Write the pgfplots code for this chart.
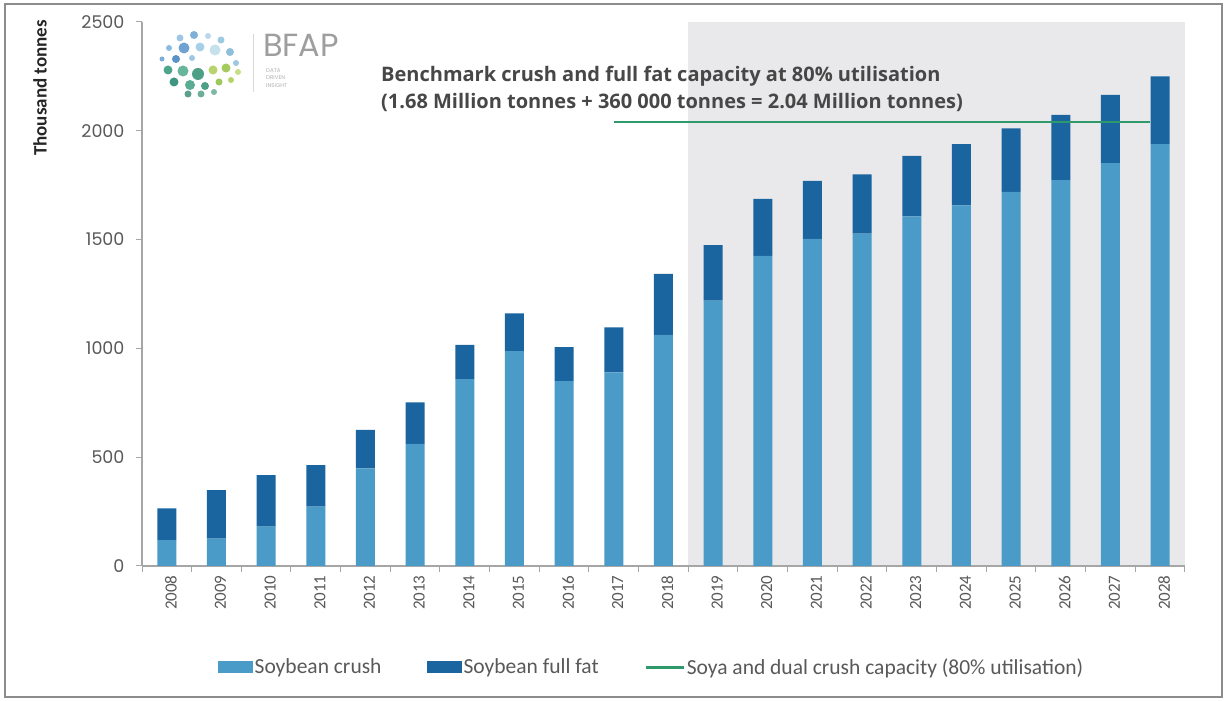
\documentclass[border=0pt]{standalone}
\usepackage{pgfplots}
\pgfplotsset{compat=1.18}
\usepackage{fontspec}
\setmainfont{Carlito}
\newfontfamily\poppins{Poppins}
\newfontfamily\opensans{Open Sans}
\definecolor{crush}{HTML}{4A9BC7}
\definecolor{fullfat}{HTML}{1A649F}
\definecolor{capline}{HTML}{2E9A6C}
\definecolor{shadebg}{HTML}{E9E9EB}
\definecolor{txtgray}{HTML}{595959}
\definecolor{axgray}{HTML}{A6A6A6}

\pgfplotstableread{
year crush fullfat
2008 119 146
2009 126 223
2010 181 237
2011 273 191
2012 449 176
2013 561 191
2014 859 157
2015 988 173
2016 850 156
2017 890 207
2018 1062 280
2019 1219 256
2020 1425 262
2021 1503 267
2022 1528 272
2023 1607 278
2024 1657 282
2025 1719 292
2026 1773 300
2027 1851 314
2028 1939 311
}\soydata

\begin{document}
\begin{tikzpicture}[x=1pt,y=1pt]
\useasboundingbox (0,0) rectangle (1227,701);
\fill[white] (0,0) rectangle (1227,701);
\draw[black!45, line width=1.2pt] (5,4) rectangle (1222,697);

% logo
\foreach \px/\py/\r/\c in {
 180/38/3.5/9FC6E4, 194/35/4/7FB0DA, 208/36/3/B9D7EC, 221/40/3.5/9ACBE0,
 169/48/3/8DBBE0, 184/48/5.5/6EA2D0, 200/47/4.5/A8CFE8, 215/50/5.5/C5E2EC, 230/52/4/8FBFDB,
 162/59/2.5/7AAED6, 176/59/4/5C93C6, 192/58/3/9FC6E4, 236/63/3/9CC8E2,
 168/70/4.5/4FA58A, 183/71/5.5/67B59A, 198/74/6/4E9F86, 213/70/4.5/B8D46E, 226/68/4.5/A5CB5E, 238/72/3/C6DE86,
 174/82/4.5/3F9680, 190/85/5/5AAD94, 205/86/4/4E9F86, 219/82/3.5/9DC85A, 231/80/3/B5D36B,
 188/94/3.5/5AA08C, 201/94/3.5/6FAE98, 214/92/3/7DB8A5}
 {\definecolor{logoc}{HTML}{\c}\fill[logoc] (\px,701-\py) circle[radius=\r];}
\draw[black!15, line width=1pt] (253,701-34) -- (253,701-92);
\node[anchor=base west, inner sep=0, font=\poppins\fontsize{32}{33}\selectfont, text=black!38] at (263,701-57) {BFAP};
\node[anchor=north west, inner sep=0, align=left, font=\poppins\fontsize{5.5}{7.5}\selectfont, text=black!30] at (266,701-68) {DATA\\DRIVEN\\INSIGHT};

% shaded projection background
\begin{axis}[
  at={(142pt,135pt)}, anchor=south west,
  scale only axis, width=1043pt, height=544pt,
  xmin=2007.5, xmax=2028.5, ymin=0, ymax=2500,
  hide axis,
]
\fill[shadebg] (axis cs:2018.5,0) rectangle (axis cs:2028.5,2500);
\end{axis}

\begin{axis}[
  at={(142pt,135pt)}, anchor=south west,
  scale only axis, width=1043pt, height=544pt,
  xmin=2007.5, xmax=2028.5, ymin=0, ymax=2500,
  ybar stacked, bar width=19pt,
  axis x line*=bottom, axis y line*=left,
  axis line style={-, axgray, line width=1.6pt},
  xtick={2008,...,2028},
  minor xtick={2007.5,2008.5,...,2028.5},
  major x tick style={draw=none},
  minor x tick style={axgray, line width=1pt},
  minor tick length=6pt,
  ytick={0,500,...,2500},
  major y tick style={axgray, line width=1pt},
  major tick length=6pt,
  tick align=outside,
  /pgf/number format/assume math mode=true,
  x tick label style={/pgf/number format/1000 sep={}, rotate=90, anchor=east, yshift=-4pt,
     font=\fontsize{17}{18}\selectfont, text=txtgray},
  y tick label style={/pgf/number format/1000 sep={}, xshift=-8pt,
     font=\poppins\fontsize{17.5}{18}\selectfont, text=txtgray},
  legend style={draw=none, fill=none, at={(0.4885,-0.1857)}, anchor=center,
     legend columns=3, font=\fontsize{21.5}{24}\selectfont, text=txtgray,
     nodes={inner xsep=1.5pt},
     /tikz/every even column/.append style={column sep=44pt},
     /tikz/every odd column/.append style={column sep=0pt}},
]
\addplot[fill=crush, draw=none,
  legend image code/.code={\fill[crush] (0pt,-6pt) rectangle (35pt,6pt);}]
  table[x=year, y=crush] {\soydata};
\addlegendentry{Soybean crush}
\addplot[fill=fullfat, draw=none,
  legend image code/.code={\fill[fullfat] (0pt,-6pt) rectangle (35pt,6pt);}]
  table[x=year, y=fullfat] {\soydata};
\addlegendentry{Soybean full fat}
\addlegendimage{legend image code/.code={\draw[capline, line width=3pt] (0pt,0pt) -- (38pt,0pt);}}
\addlegendentry{Soya and dual crush capacity (80\% utilisation)}
\end{axis}

\begin{axis}[
  at={(142pt,135pt)}, anchor=south west,
  scale only axis, width=1043pt, height=544pt,
  xmin=2007.5, xmax=2028.5, ymin=0, ymax=2500,
  hide axis,
]
\addplot[capline, line width=2.8pt, mark=none] coordinates {(2017,2040) (2027.8,2040)};
\end{axis}

\node[rotate=90, font=\bfseries\fontsize{19}{22}\selectfont, text=black!85] at (40,701-88) {Thousand tonnes};
\node[anchor=west, inner sep=0, font=\opensans\bfseries\fontsize{20}{24}\selectfont, text=black!72] at (381,701-76) {Benchmark crush and full fat capacity at 80\% utilisation};
\node[anchor=west, inner sep=0, font=\opensans\bfseries\fontsize{20}{24}\selectfont, text=black!72] at (381,701-102) {(1.68 Million tonnes + 360 000 tonnes = 2.04 Million tonnes)};
\end{tikzpicture}
\end{document}
